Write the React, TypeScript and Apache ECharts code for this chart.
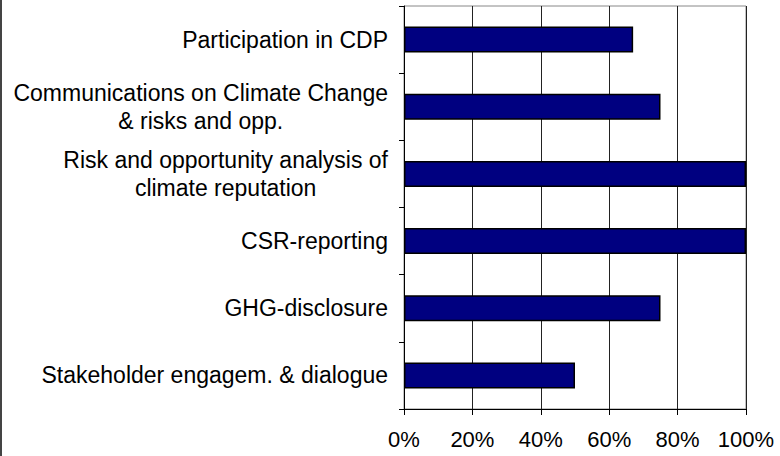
import React, { useEffect, useRef } from "react";
import * as echarts from "echarts";

const categories: string[] = [
  "Participation in CDP",
  "Communications on Climate Change\n& risks and opp.",
  "Risk and opportunity analysis of\nclimate reputation",
  "CSR-reporting",
  "GHG-disclosure",
  "Stakeholder engagem. & dialogue",
];
const values: number[] = [67, 75, 100, 100, 75, 50];
const xTicks: number[] = [0, 20, 40, 60, 80, 100];

const FONT = "'Liberation Sans', Arial, sans-serif";

export default function App() {
  const ref = useRef<HTMLDivElement>(null);
  useEffect(() => {
    if (!ref.current) return;
    const chart = echarts.init(ref.current, undefined, { renderer: "svg" });
    chart.setOption({
      animation: false,
      backgroundColor: "#ffffff",
      grid: {
        left: 404,
        right: 34,
        top: 6,
        bottom: 47,
        show: true,
        borderColor: "#888888",
        borderWidth: 1,
        backgroundColor: "transparent",
      },
      xAxis: {
        type: "value",
        min: xTicks[0],
        max: xTicks[xTicks.length - 1],
        interval: 20,
        axisLine: { show: true, lineStyle: { color: "#000", width: 1 } },
        axisTick: { show: true, length: 6, lineStyle: { color: "#000" } },
        splitLine: { show: true, lineStyle: { color: "#222", width: 1 } },
        axisLabel: {
          formatter: (v: number) => `${v}%`,
          color: "#000",
          fontSize: 22,
          fontFamily: FONT,
          margin: 19,
        },
      },
      yAxis: {
        type: "category",
        inverse: true,
        data: categories,
        axisLine: { show: true, lineStyle: { color: "#000", width: 1 } },
        axisTick: { show: true, length: 5, alignWithLabel: false, lineStyle: { color: "#000" } },
        axisLabel: {
          color: "#000",
          fontSize: 23,
          fontFamily: FONT,
          margin: 16,
          align: "right",
          lineHeight: 28,
          formatter: (v: string) =>
            v
              .split("\n")
              .map((l) => `{c|${l}}`)
              .join("\n"),
          rich: {
            c: {
              align: "center",
              fontSize: 23,
              lineHeight: 28,
              fontFamily: FONT,
              color: "#000",
            },
          },
        },
      },
      graphic: [
        {
          type: "rect",
          left: 0,
          top: 0,
          shape: { x: 0, y: 0, width: 2, height: 456 },
          style: { fill: "#444" },
        },
      ],
      series: [
        {
          type: "bar",
          data: values,
          barWidth: 26,
          itemStyle: { color: "#000080", borderColor: "#000", borderWidth: 1.5 },
        },
      ],
    });
    return () => chart.dispose();
  }, []);
  return (
    <div
      ref={ref}
      style={{ position: "fixed", left: 0, top: 0, width: 780, height: 456 }}
    />
  );
}
